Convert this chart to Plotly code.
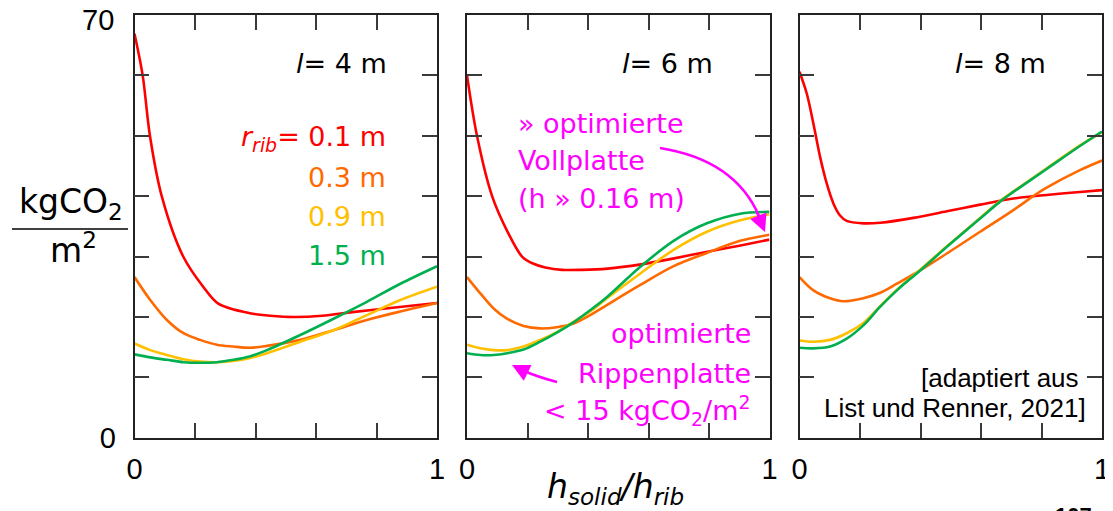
import plotly.graph_objects as go

# page window and offset of the plot div inside the page (default body margin)
WIN_W, WIN_H = 1113, 511
OFF = 8
W, H = WIN_W - OFF, WIN_H - OFF

# ---------------- data ----------------
series_names = ["0.1 m", "0.3 m", "0.9 m", "1.5 m"]
series_colors = ["#FF0000", "#FF6A00", "#FFC000", "#00B050"]
span_labels = ["4 m", "6 m", "8 m"]

# l = 4 m
p1_red_x = [0, 0.027, 0.051, 0.09, 0.161, 0.227, 0.277, 0.382, 0.448, 0.53, 0.62, 0.72, 0.83, 1.0]
p1_red_y = [66.9, 60, 50, 40, 30, 25, 22.2, 20.6, 20.2, 20.0, 20.2, 20.8, 21.4, 22.3]
p1_x = [0, 0.052, 0.107, 0.162, 0.217, 0.272, 0.327, 0.383, 0.438, 0.548, 0.658, 0.768, 0.879, 1.0]
p1_orange_y = [26.6, 22.8, 19.5, 17.3, 16.2, 15.4, 15.1, 14.9, 15.2, 16.2, 17.8, 19.5, 20.9, 22.3]
p1_yellow_y = [15.6, 14.5, 13.7, 13.0, 12.6, 12.5, 12.7, 13.2, 14.0, 15.9, 17.8, 20.3, 22.8, 25.0]
p1_green_y = [13.8, 13.3, 12.9, 12.5, 12.4, 12.5, 12.9, 13.5, 14.5, 17.0, 19.7, 22.5, 25.5, 28.4]

# l = 6 m
p2_red_x = [0, 0.033, 0.083, 0.135, 0.182, 0.22, 0.259, 0.314, 0.38, 0.465, 0.575, 0.685, 0.795, 0.9, 1.0]
p2_red_y = [60, 50, 40, 34, 30, 28.8, 28.2, 27.8, 27.8, 28.0, 28.7, 29.7, 30.8, 31.8, 32.8]
p2_x = [0, 0.044, 0.088, 0.132, 0.187, 0.242, 0.297, 0.352, 0.407, 0.463, 0.573, 0.683, 0.793, 0.903, 1.0]
p2_orange_y = [26.6, 23.9, 21.4, 19.7, 18.5, 18.1, 18.3, 18.9, 20.3, 22.0, 25.3, 28.4, 30.6, 32.6, 33.6]
p2_yellow_y = [15.4, 14.8, 14.5, 14.5, 15.1, 16.2, 17.5, 19.2, 20.9, 23.1, 27.2, 31.1, 34.1, 36.0, 37.0]
p2_green_y = [14.0, 13.7, 13.7, 14.0, 14.6, 15.9, 17.4, 19.1, 21.1, 23.3, 28.3, 32.6, 35.5, 37.1, 37.4]

# l = 8 m
p3_red_x = [0, 0.024, 0.046, 0.068, 0.090, 0.112, 0.134, 0.156, 0.211, 0.267, 0.377, 0.487, 0.597, 0.707, 0.817, 0.927, 1.0]
p3_red_y = [60.6, 57.0, 52.0, 46.5, 42.1, 38.8, 36.8, 35.9, 35.5, 35.6, 36.4, 37.5, 38.6, 39.6, 40.2, 40.7, 41.0]
p3_orange_x = [0, 0.046, 0.101, 0.145, 0.211, 0.267, 0.322, 0.399, 0.487, 0.597, 0.707, 0.773, 0.817, 0.927, 1.0]
p3_orange_y = [26.6, 24.4, 23.1, 22.6, 23.1, 24.0, 25.5, 27.7, 30.5, 34.1, 37.7, 40.0, 41.4, 44.3, 45.9]
p3_x = [0, 0.046, 0.101, 0.156, 0.211, 0.267, 0.322, 0.399, 0.487, 0.597, 0.668, 0.707, 0.817, 0.927, 1.0]
p3_yellow_y = [16.1, 15.9, 16.2, 17.3, 19.0, 21.8, 24.5, 27.8, 31.7, 36.4, 39.4, 40.8, 44.6, 48.4, 50.6]
p3_green_y = [14.9, 14.8, 15.1, 16.4, 18.6, 21.7, 24.4, 27.7, 31.6, 36.3, 39.3, 40.7, 44.5, 48.3, 50.7]

x_tickvals = [0, 0.2, 0.4, 0.6, 0.8, 1.0]
x_ticktext = ["0", "", "", "", "", "1"]
y_tickvals = [0, 10, 20, 30, 40, 50, 60, 70]
y_ticktext = ["0", "", "", "", "", "", "", ""]
y_top_label = "70"   # drawn as annotation (the axis label would be clipped at the page top)

panels = [
    [(p1_red_x, p1_red_y), (p1_x, p1_orange_y), (p1_x, p1_yellow_y), (p1_x, p1_green_y)],
    [(p2_red_x, p2_red_y), (p2_x, p2_orange_y), (p2_x, p2_yellow_y), (p2_x, p2_green_y)],
    [(p3_red_x, p3_red_y), (p3_orange_x, p3_orange_y), (p3_x, p3_yellow_y), (p3_x, p3_green_y)],
]

# ---------------- layout helpers ----------------
FONT = "DejaVu Sans, sans-serif"
FONT2 = "Liberation Sans, Arial, sans-serif"
MAG = "#FF00FF"

def px(x):
    # window pixel -> paper fraction
    return (x - OFF) / W

def py(y):
    return 1 - (y - OFF) / H

x_domains = [(134.5, 437), (467, 769.5), (799.5, 1102)]
y_dom = (py(437.7), py(15))

fig = go.Figure()

for i, panel in enumerate(panels):
    k = "" if i == 0 else str(i + 1)
    for (xs, ys), name, col in zip(panel, series_names, series_colors):
        fig.add_trace(go.Scatter(
            x=xs, y=ys, mode="lines", name=name,
            line=dict(color=col, width=2.6, shape="spline", smoothing=0.9),
            xaxis="x" + k, yaxis="y" + k, showlegend=False, hoverinfo="skip"))
    d0, d1 = x_domains[i]
    fig.update_layout(**{
        "xaxis" + k: dict(domain=[px(d0), px(d1)], range=[0, 1], anchor="y" + k,
                          automargin=False, ticklabeloverflow="allow",
                          tickvals=x_tickvals, ticktext=x_ticktext,
                          ticks="inside", ticklen=15, tickwidth=1.5, tickcolor="#3a3a3a",
                          showline=True, linecolor="#222", linewidth=1.5, mirror="ticks",
                          showgrid=False, zeroline=False,
                          tickfont=dict(family=FONT2, size=29, color="black"),
                          ticklabelstandoff=5),
        "yaxis" + k: dict(domain=list(y_dom), range=[0, 70], anchor="x" + k,
                          automargin=False, ticklabeloverflow="allow",
                          tickvals=y_tickvals, ticktext=y_ticktext,
                          showticklabels=(i == 0),
                          ticks="inside", ticklen=15, tickwidth=1.5, tickcolor="#3a3a3a",
                          showline=True, linecolor="#222", linewidth=1.5, mirror="ticks",
                          showgrid=False, zeroline=False,
                          tickfont=dict(family=FONT2, size=29, color="black"),
                          ticklabelstandoff=11),
    })

ann = []

def text(t, x, base, fs, color="black", anchor="right", family=FONT):
    ann.append(dict(text=t, x=px(x), y=py(base - 0.35 * fs), xref="paper", yref="paper",
                    xanchor=anchor, yanchor="middle", showarrow=False,
                    font=dict(family=family, size=fs, color=color)))

# top y tick label
ann.append(dict(text=y_top_label, x=px(116), y=py(19.5), xref="paper", yref="paper",
                xanchor="right", yanchor="middle", showarrow=False,
                font=dict(family=FONT2, size=29, color="black")))

# span labels
for xr, lab in zip([389, 714.5, 1048], span_labels):
    text("<i>l</i>= " + lab, xr, 73, 27)

# legend
text("<i>r</i><sub><i>rib</i></sub>= " + series_names[0], 388, 148, 27, series_colors[0])
for j, base in zip([1, 2, 3], [187, 226, 265]):
    text(series_names[j], 388, base, 27, series_colors[j])

# magenta annotations
for t, base in zip(["» optimierte", "Vollplatte", "(h » 0.16 m)"], [133, 170, 208]):
    text(t, 516, base, 27, MAG, "left")
for t, base in zip(["optimierte", "Rippenplatte", "&lt; 15 kgCO<sub>2</sub>/m<sup>2</sup>"], [343, 383, 420]):
    text(t, 753, base, 27, MAG, "right")

# credits
text("[adaptiert aus", 1081, 387, 26, family=FONT2)
text("List und Renner, 2021]", 1088, 417, 26, family=FONT2)

# y title (fraction)
text("kgCO<sub>2</sub>", 71, 215, 33, "black", "center")
text("m<sup>2</sup>", 73, 260, 33, "black", "center")

# x title
text("<i>h</i><sub><i>solid</i></sub><i>/h</i><sub><i>rib</i></sub>", 615, 500, 33, "black", "center")

# page number
ann.append(dict(text="<b>107</b>", x=px(1053), y=py(501), xref="paper", yref="paper",
                xanchor="left", yanchor="top", showarrow=False,
                font=dict(family=FONT2, size=22, color="black")))

# arrowheads
ann.append(dict(text="", x=px(765), y=py(232), xref="paper", yref="paper",
                ax=-9, ay=-22, showarrow=True, arrowhead=2, arrowsize=1.4,
                arrowwidth=2.5, arrowcolor=MAG))
ann.append(dict(text="", x=px(512), y=py(365), xref="paper", yref="paper",
                ax=14, ay=7, showarrow=True, arrowhead=2, arrowsize=1.4,
                arrowwidth=2.5, arrowcolor=MAG))

shapes = [
    dict(type="line", xref="paper", yref="paper", x0=px(12), x1=px(128), y0=py(229), y1=py(229),
         line=dict(color="black", width=1.5)),
    dict(type="path", xref="paper", yref="paper",
         path=f"M {px(660)},{py(148)} Q {px(735)},{py(160)} {px(759)},{py(216)}",
         line=dict(color=MAG, width=2.5)),
    dict(type="path", xref="paper", yref="paper",
         path=f"M {px(557)},{py(382)} Q {px(538)},{py(377)} {px(524)},{py(371)}",
         line=dict(color=MAG, width=2.5)),
]

fig.update_layout(
    width=W, height=H, autosize=False,
    margin=dict(l=0, r=0, t=0, b=0),
    paper_bgcolor="white", plot_bgcolor="white",
    annotations=ann, shapes=shapes,
    font=dict(family=FONT, color="black"),
)

fig.write_html("out.html")
